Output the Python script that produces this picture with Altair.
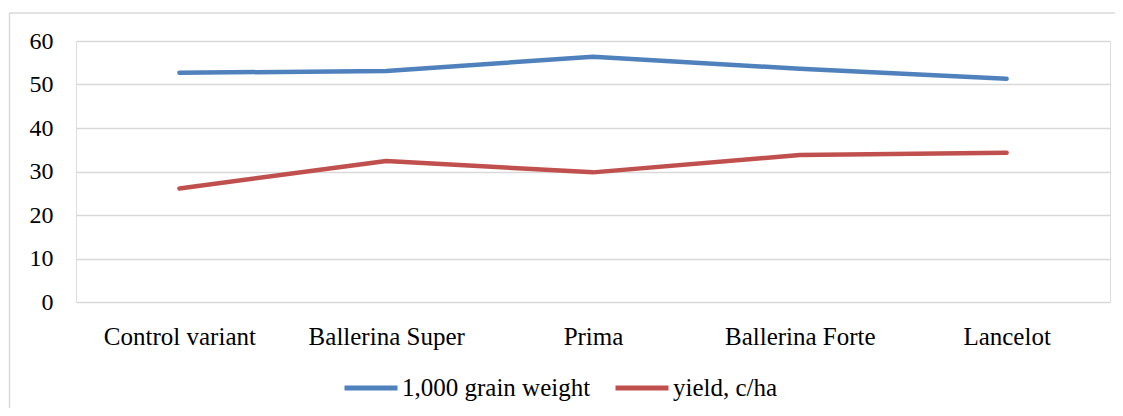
import altair as alt
import pandas as pd

categories = ["Control variant", "Ballerina Super", "Prima", "Ballerina Forte", "Lancelot"]
grain_weight = [52.7, 53.1, 56.4, 53.6, 51.3]
yield_cha = [26.1, 32.4, 29.8, 33.8, 34.3]
series = ["1,000 grain weight", "yield, c/ha"]
colors = ["#4F81BD", "#C0504D"]

rows = []
for c, g, y in zip(categories, grain_weight, yield_cha):
    rows.append({"cat": c, "series": series[0], "value": g})
    rows.append({"cat": c, "series": series[1], "value": y})
df = pd.DataFrame(rows)

FONT = "Liberation Serif"

lines = alt.Chart(df).mark_line(strokeWidth=4.5, strokeCap="round", strokeJoin="round").encode(
    x=alt.X("cat:N", sort=categories, title=None,
            scale=alt.Scale(paddingInner=0, paddingOuter=0),
            axis=alt.Axis(labelAngle=0, domain=False, ticks=False, labelPadding=22, grid=False,
                          labelFontSize=25)),
    y=alt.Y("value:Q", title=None,
            scale=alt.Scale(domain=[0, 60], nice=False),
            axis=alt.Axis(values=[0, 10, 20, 30, 40, 50, 60], domain=False, ticks=False,
                          labelPadding=23, gridColor="#D9D9D9", gridWidth=1.5,
                          labelFontSize=24)),
    color=alt.Color("series:N", scale=alt.Scale(domain=series, range=colors),
                    legend=alt.Legend(title=None, orient="none", direction="horizontal",
                                      legendX=266, legendY=318,
                                      symbolType="stroke", symbolSize=2809, symbolStrokeWidth=5,
                                      labelOffset=2, columnPadding=14, labelFontSize=25,
                                      labelLimit=500)),
)

edge = pd.DataFrame({"a": [0]})
top_edge = alt.Chart(edge).mark_rule(stroke="#D9D9D9", strokeWidth=1.5).encode(
    x=alt.value(-66.5), x2=alt.value(1100), y=alt.value(-28))
left_edge = alt.Chart(edge).mark_rule(stroke="#D9D9D9", strokeWidth=1.5).encode(
    x=alt.value(-66.5), y=alt.value(-28), y2=alt.value(500))

chart = alt.layer(top_edge, left_edge, lines).properties(
    width=1034, height=261,
    autosize=alt.AutoSizeParams(type="none"),
    padding={"left": 68, "top": 33, "right": 5, "bottom": 106},
).configure_view(stroke=None).configure(background="white").configure_axis(
    labelFont=FONT, labelColor="#000000"
).configure_legend(labelFont=FONT, labelColor="#000000")

chart.save("out.html", embed_options={"renderer": "svg", "actions": False})
